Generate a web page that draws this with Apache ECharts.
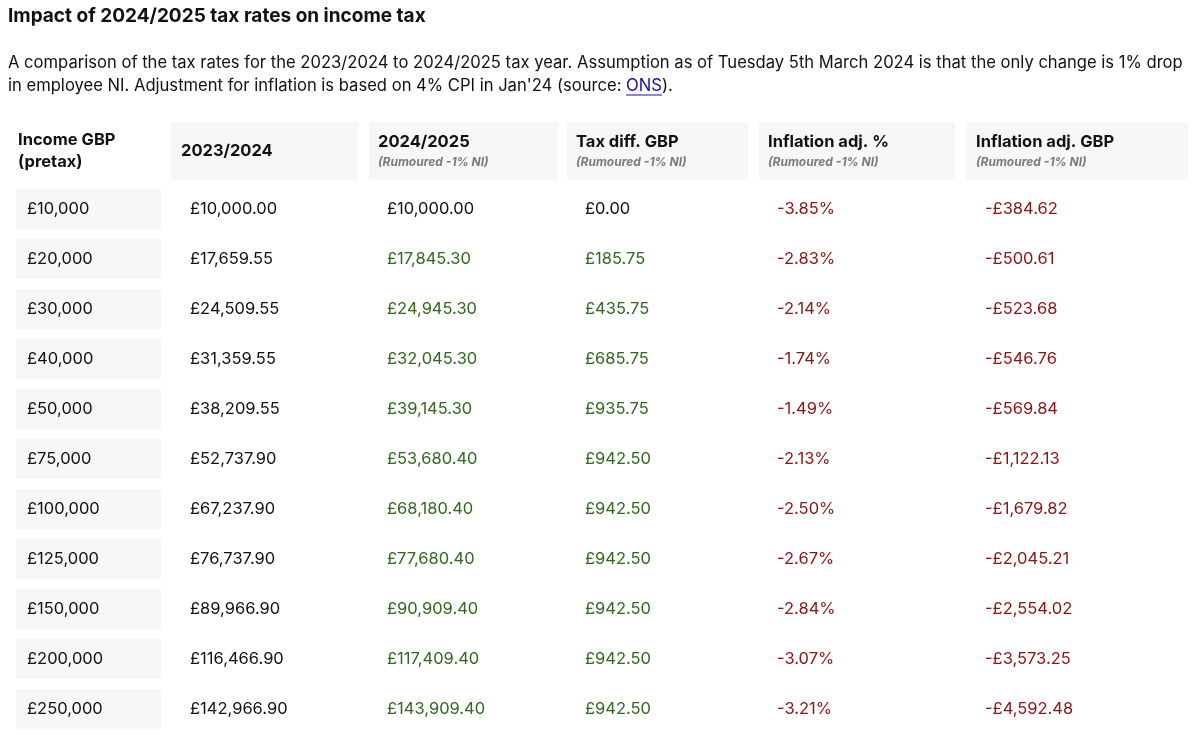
<!DOCTYPE html>
<html><head><meta charset="utf-8">
<script src="https://cdn.jsdelivr.net/npm/echarts@6/dist/echarts.min.js"></script>
<style>html,body{margin:0;padding:0;background:#fff}#c{width:1200px;height:735px}</style>
</head><body><div id="c"></div>
<script>
const headers = ['Income GBP\n(pretax)', '2023/2024', '2024/2025', 'Tax diff. GBP', 'Inflation adj. %', 'Inflation adj. GBP'];
const subHeaders = ['', '', '(Rumoured -1% NI)', '(Rumoured -1% NI)', '(Rumoured -1% NI)', '(Rumoured -1% NI)'];
const incomes = ['£10,000','£20,000','£30,000','£40,000','£50,000','£75,000','£100,000','£125,000','£150,000','£200,000','£250,000'];
const tax2324 = ['£10,000.00','£17,659.55','£24,509.55','£31,359.55','£38,209.55','£52,737.90','£67,237.90','£76,737.90','£89,966.90','£116,466.90','£142,966.90'];
const tax2425 = ['£10,000.00','£17,845.30','£24,945.30','£32,045.30','£39,145.30','£53,680.40','£68,180.40','£77,680.40','£90,909.40','£117,409.40','£143,909.40'];
const taxDiff = ['£0.00','£185.75','£435.75','£685.75','£935.75','£942.50','£942.50','£942.50','£942.50','£942.50','£942.50'];
const inflPct = ['-3.85%','-2.83%','-2.14%','-1.74%','-1.49%','-2.13%','-2.50%','-2.67%','-2.84%','-3.07%','-3.21%'];
const inflGbp = ['-£384.62','-£500.61','-£523.68','-£546.76','-£569.84','-£1,122.13','-£1,679.82','-£2,045.21','-£2,554.02','-£3,573.25','-£4,592.48'];

const colBox = [[16,161],[171,358],[369,558],[567,748],[759,955],[966,1188]];
const headBox = [[8,161],[171,358],[369,558],[567,748],[759,955],[966,1188]];
const textX = [27,190,387,585,777,985];
const headTextX = [18,181,378,576,768,976];
const GREEN = '#2f6a1c', RED = '#8a1414', FONT = 'Inter, "Noto Sans", sans-serif';
const SUBFONT = '16.6px ' + FONT;

const columns = [incomes, tax2324, tax2425, taxDiff, inflPct, inflGbp];
const data = [];
for (let r = 0; r < incomes.length; r++) for (let c = 0; c < 6; c++) data.push([c, r + 1]);
for (let c = 0; c < 6; c++) data.push([c, 0]);
function rowY(r) { return r === 0 ? 151 : 209 + (r - 1) * 50; }

const line2Prefix = "in employee NI. Adjustment for inflation is based on 4% CPI in Jan'24 (source: ";
const ctx = document.createElement('canvas').getContext('2d');
ctx.font = SUBFONT;
const ulX1 = 8 + ctx.measureText(line2Prefix).width;
const ulX2 = ulX1 + ctx.measureText('ONS').width;

const chart = echarts.init(document.getElementById('c'));
chart.setOption({
  animation: false,
  grid: {left: 0, right: 0, top: 0, bottom: 0},
  xAxis: {type: 'value', min: 0, max: 1200, show: false},
  yAxis: {type: 'value', min: 0, max: 735, inverse: true, show: false},
  title: {
    left: 8, top: 7, padding: 0,
    text: 'Impact of 2024/2025 tax rates on income tax',
    textStyle: {fontFamily: FONT, fontSize: 19, fontWeight: 'bold', color: '#111'}
  },
  graphic: [
    {type: 'text', left: 8, top: 51, style: {
      text: 'A comparison of the tax rates for the 2023/2024 to 2024/2025 tax year. Assumption as of Tuesday 5th March 2024 is that the only change is 1% drop\n' + line2Prefix + '{l|ONS}).',
      font: SUBFONT, fill: '#111', lineHeight: 23,
      rich: {l: {fill: '#1a0dab', font: SUBFONT}}
    }},
    {type: 'line', shape: {x1: ulX1, y1: 95, x2: ulX2, y2: 95}, style: {stroke: '#1a0dab', lineWidth: 1}}
  ],
  series: [{
    type: 'custom',
    data: data,
    renderItem: function (params, api) {
      const c = api.value(0), r = api.value(1);
      const cy = api.coord([0, rowY(r)])[1];
      const children = [];
      if (r === 0) {
        const b = headBox[c];
        const x0 = api.coord([b[0], 0])[0], x1 = api.coord([b[1], 0])[0];
        if (c > 0) children.push({type: 'rect', shape: {x: x0, y: cy - 29, width: x1 - x0, height: 58}, style: {fill: '#f7f7f7'}});
        const tx = api.coord([headTextX[c], 0])[0];
        if (subHeaders[c]) {
          children.push({type: 'text', style: {x: tx, y: cy - 9, text: headers[c], font: 'bold 16.5px ' + FONT, fill: '#111', verticalAlign: 'middle'}});
          children.push({type: 'text', style: {x: tx, y: cy + 11, text: subHeaders[c], font: 'italic bold 12px ' + FONT, fill: '#7a7a7a', verticalAlign: 'middle'}});
        } else {
          children.push({type: 'text', style: {x: tx, y: cy, text: headers[c], font: 'bold 16.5px ' + FONT, fill: '#111', verticalAlign: 'middle', lineHeight: 22}});
        }
      } else {
        if (c === 0) {
          const b = colBox[0];
          const x0 = api.coord([b[0], 0])[0], x1 = api.coord([b[1], 0])[0];
          children.push({type: 'rect', shape: {x: x0, y: cy - 20, width: x1 - x0, height: 40}, style: {fill: '#f7f7f7'}});
        }
        const i = r - 1;
        let color = '#111';
        if ((c === 2 || c === 3) && i > 0) color = GREEN;
        if (c >= 4) color = RED;
        children.push({type: 'text', style: {x: api.coord([textX[c], 0])[0], y: cy, text: columns[c][i], font: '16.5px ' + FONT, fill: color, verticalAlign: 'middle'}});
      }
      return {type: 'group', children: children};
    }
  }]
});
</script></body></html>
